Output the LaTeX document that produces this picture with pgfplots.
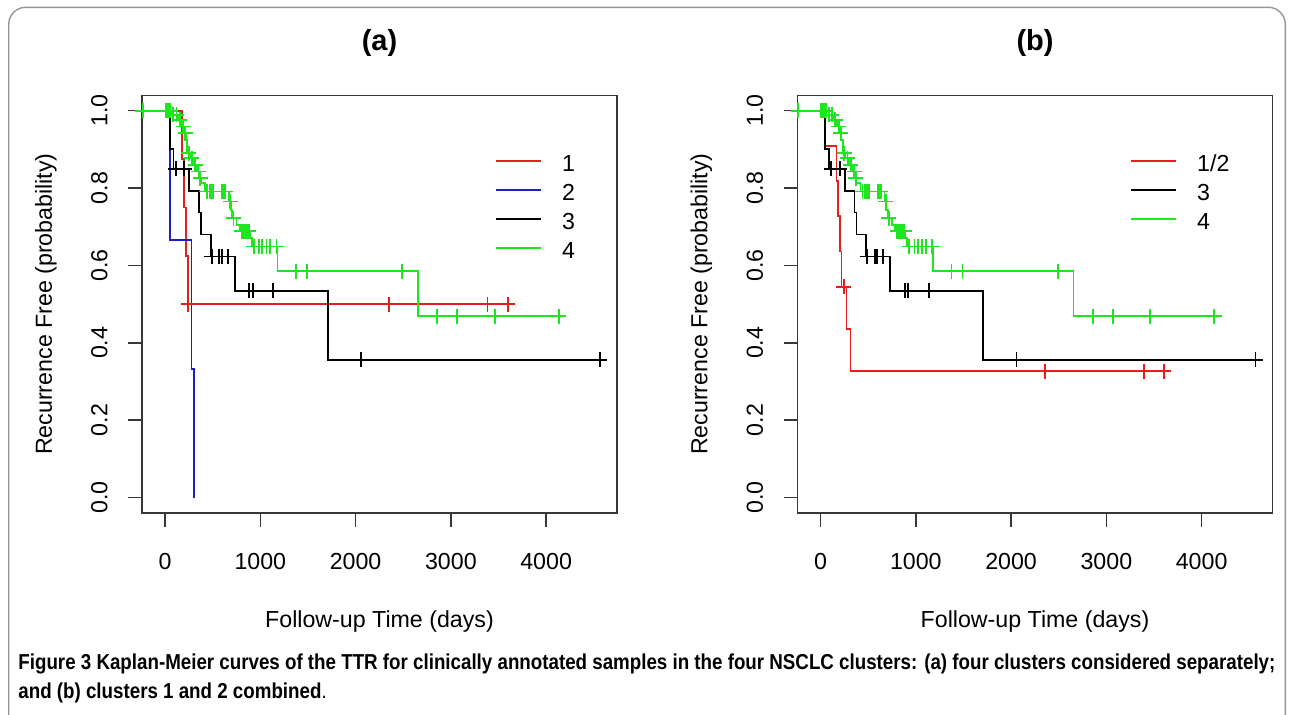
\documentclass[border=0pt]{standalone}
\usepackage{fontspec}
\setmainfont{Liberation Sans}
\usepackage{pgfplots}
\usepackage{pgfplotstable}
\usepackage{graphicx}
\pgfplotsset{compat=1.18}

\definecolor{kmred}{RGB}{230,30,30}
\definecolor{kmblue}{RGB}{30,30,200}
\definecolor{kmgreen}{RGB}{30,230,30}
\definecolor{boxgray}{RGB}{55,55,55}
\definecolor{framegray}{RGB}{150,150,150}

% cluster 3 (same in both panels)
\pgfplotstableread{
t S
0 1
50 0.9
88 0.85
255 0.793
357 0.737
378 0.680
479 0.623
730 0.534
1708 0.356
4565 0.356
}\blackline
\pgfplotstableread{
t S
112 0.85
200 0.85
490 0.623
570 0.623
595 0.623
658 0.623
885 0.534
920 0.534
1137 0.534
2057 0.356
4565 0.356
}\blackcens

% cluster 4 (same in both panels)
\pgfplotstableread{
t S
-235 1
62 0.989
135 0.976
172 0.959
198 0.942
220 0.924
232 0.890
262 0.877
300 0.860
335 0.843
362 0.826
378 0.813
420 0.791
672 0.765
690 0.744
705 0.722
750 0.705
785 0.688
890 0.671
910 0.649
1180 0.585
2655 0.469
4132 0.469
}\greenline
\pgfplotstableread{
t S
-235 1
5 1
15 1
25 1
35 1
45 1
55 1
85 0.989
120 0.989
155 0.976
190 0.959
212 0.942
248 0.890
282 0.877
318 0.860
352 0.843
370 0.826
440 0.791
470 0.791
490 0.791
505 0.791
598 0.791
615 0.791
632 0.791
683 0.765
718 0.722
805 0.688
825 0.688
845 0.688
862 0.688
880 0.688
930 0.649
985 0.649
1020 0.649
1065 0.649
1105 0.649
1170 0.649
1375 0.585
1490 0.585
2490 0.585
2858 0.469
3066 0.469
3460 0.469
4132 0.469
}\greencens

\pgfplotsset{
  km/.style={
    scale only axis,
    width=237.5pt, height=208.9pt,
    xmin=-242, xmax=4744, ymin=-0.04, ymax=1.04,
    xtick={0,1000,2000,3000,4000},
    ytick={0,0.2,0.4,0.6,0.8,1.0},
    tick align=outside,
    major tick length=7pt,
    xtick pos=bottom, ytick pos=left,
    axis line style={draw=boxgray, line width=0.7pt},
    tick style={boxgray, line width=0.7pt},
    tick label style={font=\fontsize{11.6}{13}\selectfont, inner sep=0pt},
    label style={font=\fontsize{11.6}{13}\selectfont},
    /pgf/number format/assume math mode=true,
    xticklabel style={/pgf/number format/1000 sep={}, anchor=north},
    yticklabel style={/pgf/number format/fixed, /pgf/number format/fixed zerofill,
      /pgf/number format/precision=1, rotate=90, anchor=south},
    xticklabel shift=13pt,
    yticklabel shift=10pt,
    xlabel={Follow-up Time (days)},
    ylabel={Recurrence Free (probability)},
    xlabel style={at={(axis description cs:0.5,-0.273)}, anchor=base},
    ylabel style={at={(axis description cs:-0.1895,0.5)}, anchor=base},
    legend style={draw=none, fill=none, inner sep=0pt, row sep=5.5pt, column sep=10pt,
      font=\fontsize{11.6}{13}\selectfont,
      nodes={inner sep=0pt, text height=9pt, text depth=0pt, anchor=base west}},
    legend image code/.code={\draw[##1, line width=0.9pt] (0pt,5pt) -- (22.5pt,5pt);},
    every axis plot/.append style={line width=0.9pt},
  },
  cens/.style={only marks, mark=+, mark size=3.75pt, mark options={line width=0.9pt}, forget plot},
}

\newsavebox\capA
\newsavebox\capB

\begin{document}%
\sbox\capA{\bfseries\fontsize{10.8}{12}\selectfont Figure 3 Kaplan-Meier curves of the TTR for clinically annotated samples in the four NSCLC clusters: (a) four clusters considered separately;}%
\sbox\capB{\fontsize{10.8}{12}\selectfont\textbf{and (b) clusters 1 and 2 combined}.}%
\pgfmathsetmacro\capsc{628.5/\the\wd\capA}%
\begin{tikzpicture}
\begin{scope}[x=0.5pt,y=-0.5pt]
\useasboundingbox (0,0) rectangle (1294,714);
\draw[framegray, line width=0.7pt, rounded corners=8.5pt]
  (8.7,760) -- (8.7,7.3) -- (1285.3,7.3) -- (1285.3,760);
\node[font=\bfseries\fontsize{14.5}{16}\selectfont, anchor=base] at (379.5,50) {(a)};
\node[font=\bfseries\fontsize{14.5}{16}\selectfont, anchor=base] at (1035,50) {(b)};
\node[anchor=base west, inner sep=0pt] at (18,669.5) {\scalebox{\capsc}[1]{\usebox\capA}};
\node[anchor=base west, inner sep=0pt] at (18,698.5) {\scalebox{\capsc}[1]{\usebox\capB}};
\end{scope}

% (a) four clusters considered separately
\begin{axis}[km, at={(71pt,-256.5pt)}, anchor=south west,
  legend style={at={(axis description cs:0.743,0.862)}, anchor=north west}]
\addplot[kmred, const plot] coordinates {(0,1) (175,0.875) (199,0.75) (220,0.625) (245,0.5) (3598,0.5)};
\addlegendentry{1}
\addplot[kmred, cens] coordinates {(245,0.5) (2352,0.5) (3385,0.5) (3598,0.5)};
\addplot[kmblue, const plot] coordinates {(0,1) (52,0.6667) (277,0.3333) (304,0)};
\addlegendentry{2}
\addplot[black, const plot] table[x=t, y=S] {\blackline};
\addlegendentry{3}
\addplot[black, cens] table[x=t, y=S] {\blackcens};
\addplot[kmgreen, const plot] table[x=t, y=S] {\greenline};
\addlegendentry{4}
\addplot[kmgreen, cens] table[x=t, y=S] {\greencens};
\end{axis}

% (b) clusters 1 and 2 combined
\begin{axis}[km, at={(398.75pt,-256.5pt)}, anchor=south west,
  legend style={at={(axis description cs:0.700,0.862)}, anchor=north west}]
\addplot[kmred, const plot] coordinates {(0,1) (45,0.909) (168,0.818) (185,0.727) (203,0.636) (220,0.545) (273,0.436) (315,0.327) (3603,0.327)};
\addlegendentry{1/2}
\addplot[kmred, cens] coordinates {(245,0.545) (2354,0.327) (3393,0.327) (3603,0.327)};
\addplot[black, const plot] table[x=t, y=S] {\blackline};
\addlegendentry{3}
\addplot[black, cens] table[x=t, y=S] {\blackcens};
\addplot[kmgreen, const plot] table[x=t, y=S] {\greenline};
\addlegendentry{4}
\addplot[kmgreen, cens] table[x=t, y=S] {\greencens};
\end{axis}
\end{tikzpicture}%
\end{document}
